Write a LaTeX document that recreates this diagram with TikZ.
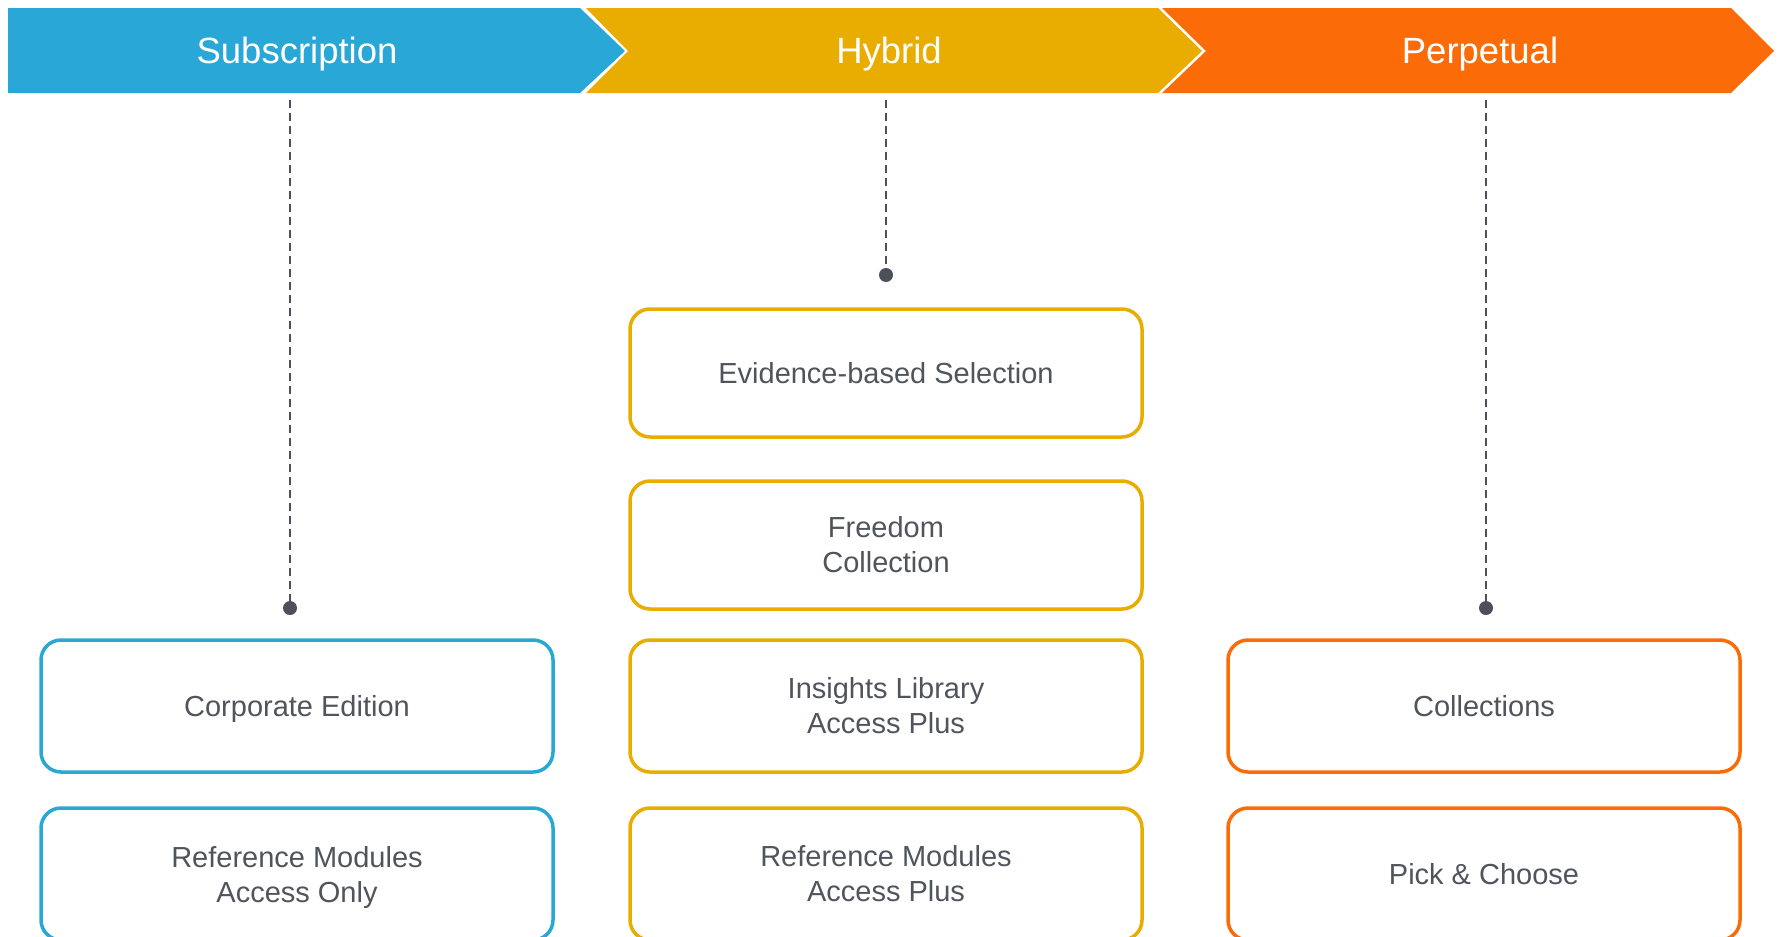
\documentclass[tikz,border=0pt]{standalone}
\usepackage{fontspec}
\setmainfont{Liberation Sans}
\usetikzlibrary{positioning}

\definecolor{subblue}{HTML}{29A7D7}
\definecolor{hybgold}{HTML}{E9AC00}
\definecolor{perporange}{HTML}{FB6C09}
\definecolor{txtgray}{HTML}{50545C}
\definecolor{dotgray}{HTML}{4D5058}

\begin{document}
\begin{tikzpicture}[x=1pt, y=-1pt,
  box/.style={draw, rounded corners=20pt, line width=3.5pt, minimum width=512pt,
    minimum height=132pt, align=center, text=txtgray, font=\fontsize{29}{35}\selectfont},
  head/.style={text=white, font=\fontsize{36.5}{44}\selectfont},
  dot/.style={circle, fill=dotgray, inner sep=0pt, minimum size=14pt},
  dashline/.style={draw=dotgray, line width=2pt, dash pattern=on 8pt off 5pt}]
\path[use as bounding box] (0,0) rectangle (1783,937);
\clip (0,0) rectangle (1783,937);

% Header chevrons
\fill[subblue] (8,8) -- (580,8) -- (625,51) -- (580,93) -- (8,93) -- cycle;
\fill[hybgold] (586,8) -- (1158,8) -- (1202,51) -- (1158,93) -- (586,93) -- (628,51) -- cycle;
\fill[perporange] (1162,8) -- (1731,8) -- (1774,51) -- (1731,93) -- (1162,93) -- (1206,51) -- cycle;
\node[head] (sub) at (297,54) {Subscription};
\node[head] (hyb) at (889,54) {Hybrid};
\node[head] (perp) at (1480,54) {Perpetual};

% Subscription column
\node[box, draw=subblue, text depth=0pt] (corp) at (297,706) {Corporate Edition};
\node[box, draw=subblue] (refonly) at (297,874) {\rule{0pt}{27pt}Reference Modules\\Access Only};

% Hybrid column
\node[box, draw=hybgold, minimum height=128pt] (ebs) at (886,373) {Evidence-based Selection};
\node[box, draw=hybgold, minimum height=128pt] (free) at (886,545) {Freedom\\Collection};
\node[box, draw=hybgold] (insight) at (886,706) {Insights Library\\Access Plus};
\node[box, draw=hybgold] (refplus) at (886,874) {Reference Modules\\Access Plus};

% Perpetual column
\node[box, draw=perporange] (coll) at (1484,706) {Collections};
\node[box, draw=perporange] (pick) at (1484,874) {Pick \& Choose};

% Dashed leaders
\coordinate (tsub) at (290,100);
\coordinate (thyb) at (886,100);
\coordinate (tperp) at (1486,100);
\node[dot] (dsub) at (290,608) {};
\node[dot] (dhyb) at (886,275) {};
\node[dot] (dperp) at (1486,608) {};
\draw[dashline] (tsub) -- (dsub);
\draw[dashline] (thyb) -- (dhyb);
\draw[dashline] (tperp) -- (dperp);
\end{tikzpicture}
\end{document}
